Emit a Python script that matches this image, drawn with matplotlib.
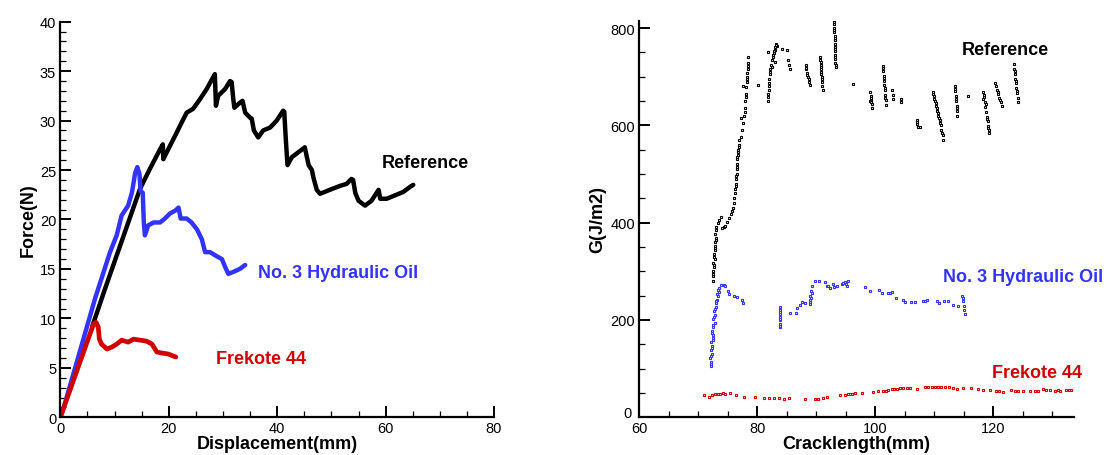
import matplotlib
matplotlib.use("Agg")
import matplotlib.pyplot as plt
from matplotlib.ticker import MultipleLocator
from matplotlib.transforms import ScaledTranslation

plt.rcParams['font.family'] = ['Liberation Sans', 'DejaVu Sans']

BLACK = '#000000'
BLUE = '#3333ff'
RED = '#d00000'

# ---------------- Left panel: Force vs Displacement ----------------
ref_disp = [5.9, 8.25, 14.7, 16.5, 18.4, 18.9, 19.0, 19.9, 21.2, 22.1, 23.3, 24.5, 25.8, 27.0,
            28.2, 28.5, 28.7, 29.1, 30.4, 31.3, 31.6, 31.9, 32.1, 33.1, 33.6, 34.1, 35.0, 35.3,
            35.7, 36.5, 37.4, 38.7, 39.9, 41.1, 41.3, 41.6, 41.9, 42.7, 43.9, 45.1, 45.4, 45.8,
            46.4, 46.7, 47.3, 47.9, 49.7, 51.6, 52.8, 53.7, 54.0, 54.4, 55.0, 56.2, 57.4, 58.7,
            59.0, 60.2, 62.0, 63.3, 64.5, 65.1]
ref_force = [9.2, 13.0, 23.1, 25.1, 27.1, 27.6, 26.1, 27.1, 28.5, 29.5, 30.8, 31.2, 32.2, 33.2,
             34.4, 34.7, 31.5, 32.5, 33.2, 34.0, 33.9, 32.2, 31.3, 31.8, 32.0, 30.8, 30.3, 30.2,
             29.0, 28.3, 29.0, 29.3, 30.0, 31.0, 30.9, 28.0, 25.5, 26.3, 26.8, 27.3, 26.5, 25.5,
             25.0, 24.2, 23.0, 22.6, 23.0, 23.4, 23.6, 24.1, 24.0, 22.7, 21.9, 21.4, 21.9, 23.0,
             22.1, 22.1, 22.5, 22.8, 23.3, 23.5]

oil_disp = [0.0, 0.55, 6.4, 9.17, 10.4, 11.3, 12.5, 13.2, 13.8, 14.2, 14.6, 14.8, 15.2, 15.4,
            15.6, 16.2, 17.2, 18.4, 19.3, 20.2, 21.2, 21.8, 22.2, 23.3, 24.2, 25.2, 26.1, 26.7,
            27.6, 28.8, 29.8, 30.4, 31.0, 31.9, 33.1, 34.1]
oil_force = [0.0, 0.84, 12.0, 16.7, 18.4, 20.4, 21.4, 22.7, 24.7, 25.3, 24.6, 22.9, 22.7, 19.7,
             18.4, 19.4, 19.7, 19.7, 20.1, 20.6, 20.9, 21.2, 20.1, 20.1, 19.7, 19.0, 18.0, 16.7,
             16.7, 16.3, 16.0, 15.2, 14.5, 14.7, 15.0, 15.4]

fre_disp = [0.0, 6.1, 6.6, 7.0, 7.2, 7.6, 8.6, 9.5, 10.4, 11.3, 12.5, 13.5, 14.7, 15.9, 16.9,
            17.8, 18.7, 19.9, 20.8, 21.3]
fre_force = [0.0, 9.4, 9.6, 9.1, 7.9, 7.4, 6.9, 7.1, 7.4, 7.8, 7.6, 7.9, 7.8, 7.7, 7.4,
             6.6, 6.5, 6.4, 6.2, 6.1]

# ---------------- Right panel: G vs Cracklength ----------------
ref_crack = [72.5, 72.6, 72.5, 72.7, 72.6, 72.8, 72.7, 72.9, 72.8, 72.9, 73.0, 72.9, 73.0, 73.1,
             73.3, 73.6, 73.8, 74.0, 74.3, 74.6, 74.9, 75.2, 75.5, 75.7, 75.9, 76.0, 76.1, 76.2,
             76.3, 76.4, 76.4, 76.5, 76.5, 76.6, 76.6, 76.7, 76.8, 76.9, 77.0, 77.3, 77.4, 77.2,
             77.6, 77.8, 77.9, 78.0, 78.1, 77.6, 78.2, 78.3, 78.4, 78.4, 78.5,
             72.55, 72.65, 72.75, 72.85, 72.95, 76.35, 76.45, 76.55, 76.65, 76.75, 76.85, 77.9, 78.05,
             78.15, 78.25, 78.35, 78.45,
             80.2,
             81.8, 81.9, 82.0, 82.0, 82.1, 82.2, 82.3, 82.5, 82.7, 82.9, 83.1, 83.3, 83.2, 81.8,
             82.5, 83.0, 81.85, 81.95, 82.05, 82.15, 82.6, 82.8, 83.0, 83.2,
             84.2, 85.1, 85.3, 85.4, 85.5,
             88.2, 88.3, 88.4, 88.6, 88.8, 89.0, 88.3, 88.5, 88.7,
             90.7, 90.75, 90.8, 90.85, 90.9, 91.0, 91.0, 91.1, 90.72, 90.78, 90.82, 90.88, 90.95,
             93.0, 93.0, 93.05, 93.05, 93.1, 93.1, 93.1, 93.15, 93.2, 93.2, 93.2, 93.25, 93.3,
             93.02, 93.07, 93.12, 93.17, 93.22, 93.27,
             96.3,
             99.1, 99.2, 99.3, 99.4, 99.5, 99.1, 99.25, 99.35,
             101.3, 101.35, 101.4, 101.5, 101.55, 101.6, 101.7, 101.75, 101.8,
             101.32, 101.45, 101.58, 101.72,
             102.9, 102.95, 103.0,
             104.3, 104.35,
             107.0, 107.1, 107.2, 107.5, 107.05,
             109.7, 109.9, 110.1, 110.3, 110.5, 110.7, 110.9, 111.1, 111.2, 111.4, 111.5,
             109.8, 110.0, 110.2, 110.4, 110.6, 110.8, 111.0, 111.3,
             113.5, 113.55, 113.6, 113.7, 113.75, 113.85, 113.9, 113.52, 113.65, 113.8,
             115.7,
             118.3, 118.4, 118.5, 118.6, 118.8, 118.9, 119.0, 119.1, 119.2, 119.3, 118.3,
             118.45, 118.7, 118.95, 119.15,
             120.3, 120.45, 120.6, 120.8, 121.0, 121.2, 121.4, 120.7, 121.1,
             123.5, 123.55, 123.6, 123.7, 123.8, 123.9, 124.0, 124.1, 124.2, 123.65, 123.85, 124.05]
ref_G = [280, 290, 300, 308, 318, 326, 335, 343, 352, 360, 368, 376, 384, 392,
         400, 405, 412, 390, 392, 394, 402, 410, 418, 423, 430, 440, 450, 460,
         470, 480, 490, 500, 510, 520, 530, 540, 550, 560, 570, 575, 590, 615,
         605, 620, 635, 650, 665, 680, 690, 700, 715, 728, 740,
         295, 313, 330, 347, 364, 475, 495, 515, 535, 545, 555, 628, 658,
         678, 695, 708, 722,
         683,
         650, 665, 680, 695, 705, 715, 725, 735, 740, 748, 755, 762, 768, 750,
         720, 730, 658, 672, 688, 710, 745, 752, 760, 765,
         757, 754, 735, 725, 715,
         723, 715, 708, 700, 690, 682, 718, 704, 695,
         740, 730, 720, 710, 700, 690, 680, 672, 735, 725, 715, 705, 695,
         816, 808, 800, 792, 784, 776, 768, 760, 752, 744, 736, 728, 720,
         812, 796, 780, 756, 740, 724,
         685,
         668, 660, 652, 644, 636, 650, 656, 648,
         722, 712, 702, 692, 682, 672, 662, 652, 642,
         717, 697, 677, 657,
         672, 662, 654,
         655, 648,
         610, 603, 596, 596, 606,
         668, 660, 650, 640, 630, 620, 610, 600, 590, 580, 570,
         664, 655, 645, 635, 625, 615, 605, 585,
         680, 670, 660, 650, 640, 630, 620, 675, 655, 635,
         661,
         668, 658, 648, 638, 628, 618, 608, 598, 590, 584, 655,
         663, 643, 613, 594,
         688, 680, 672, 664, 656, 648, 640, 668, 652,
         726, 716, 706, 696, 686, 676, 666, 656, 648, 711, 691, 671]

oil_crack = [72.1, 72.2, 72.0, 72.3, 72.1, 72.4, 72.2, 72.5, 72.5, 72.3, 72.6, 72.8, 72.5, 72.9,
             72.7, 73.0, 73.1, 73.2, 73.3, 73.5, 73.6, 73.9, 74.3, 74.6, 75.0, 75.3, 76.0, 76.6,
             77.4, 77.6,
             72.15, 72.25, 72.35, 72.45, 72.4, 72.6, 72.7, 72.8, 73.05, 73.25, 73.4,
             83.8, 83.8, 83.8, 83.8, 83.85, 83.85, 83.85, 83.8, 83.82, 83.84,
             85.6, 86.6, 86.8, 87.2, 87.6, 88.1, 88.9, 88.9, 89.0, 89.1, 89.3, 89.8, 90.4, 91.5,
             91.8, 92.3, 92.8, 93.5, 94.3, 94.9, 95.2, 95.3, 98.3, 99.1, 100.7, 101.1, 102.2,
             102.8, 103.5, 104.7, 105.0, 106.1, 106.7, 108.1, 108.7, 110.4, 110.8, 111.6, 112.3,
             113.2, 114.0, 114.7, 114.9, 115.0, 115.1, 115.15,
             88.95, 89.05, 89.2, 92.0, 93.0, 94.6, 95.0, 102.5, 108.4, 114.8]
oil_G = [106, 114, 122, 130, 138, 146, 154, 162, 170, 178, 186, 194, 202, 210,
         218, 226, 234, 242, 250, 258, 265, 271, 272, 270, 260, 254, 250, 248,
         242, 234,
         110, 126, 142, 158, 174, 190, 206, 222, 238, 254, 262,
         185, 192, 199, 206, 213, 220, 226, 188, 203, 217,
         215, 215, 224, 230, 236, 234, 232, 242, 250, 260, 270, 280, 280, 277,
         269, 266, 274, 270, 273, 277, 270, 280, 267, 260, 262, 256, 256,
         258, 246, 241, 236, 237, 236, 239, 241, 239, 235, 239, 239,
         230, 228, 250, 240, 229, 220, 212,
         237, 246, 255, 270, 268, 275, 274, 255, 240, 245]

fre_crack = [71.06, 71.80, 72.36, 72.92, 73.3, 73.77, 74.2, 74.61, 75.34, 76.47, 77.71, 79.68,
             81.09, 81.93, 82.78, 83.62, 84.47, 85.31, 88.13, 89.81, 90.38, 91.22, 91.90, 94.04,
             94.88, 95.3, 95.73, 96.1, 96.57, 97.70, 99.67, 100.51, 101.36, 101.8, 102.20, 102.77,
             103.2, 103.61, 104.2, 104.74, 105.3, 105.86, 106.99, 108.40, 109.0, 109.52, 110.1,
             110.65, 111.2, 111.77, 112.4, 113.18, 113.75, 114.87, 116.28, 117.41, 118.25, 119.38,
             120.50, 121.0, 121.63, 123.03, 123.6, 124.16, 125.01, 126.13, 127.0, 127.54, 128.39,
             128.9, 129.51, 130.36, 130.9, 131.20, 132.33, 132.8, 133.2]
fre_G = [45.3, 42.5, 45.3, 47.4, 48.0, 48.7, 49.0, 48.7, 49.4, 46.0, 42.5, 42.5,
         39.0, 39.0, 39.0, 39.0, 37.0, 40.5, 38.4, 37.0, 38.4, 39.8, 41.9, 45.3,
         46.7, 47.5, 48.0, 48.5, 49.4, 50.8, 52.2, 53.5, 54.2, 55.0, 56.3, 57.6,
         58.0, 59.0, 60.0, 60.4, 60.2, 59.7, 59.0, 63.1, 62.8, 62.4, 62.0,
         62.4, 62.2, 61.7, 61.5, 61.0, 59.0, 60.4, 59.7, 59.0, 56.3, 56.3,
         54.9, 53.5, 52.2, 56.3, 55.0, 53.5, 53.5, 54.2, 54.8, 54.2, 57.6,
         57.0, 56.3, 54.2, 55.5, 55.0, 56.3, 56.8, 56.0]

fig = plt.figure(figsize=(11.11, 4.56), dpi=100)
ax1 = fig.add_axes([0.0543, 0.0827, 0.3904, 0.8675])
ax2 = fig.add_axes([0.5752, 0.0827, 0.3918, 0.8697])


def style(ax):
    for s in ('top', 'right'):
        ax.spines[s].set_visible(False)
    for s in ('left', 'bottom'):
        ax.spines[s].set_linewidth(1.6)
    ax.tick_params(which='major', direction='in', length=8, width=1.4, labelsize=10.5,
                   pad=3, top=False, right=False)
    ax.tick_params(which='minor', direction='in', length=4.5, width=0.9, top=False, right=False)


# Left
ax1.plot(ref_disp, ref_force, color=BLACK, lw=3.2, solid_capstyle='round')
ax1.plot(oil_disp, oil_force, color=BLUE, lw=3.2, solid_capstyle='round')
ax1.plot(fre_disp, fre_force, color=RED, lw=3.4, solid_capstyle='round')
ax1.set_xlim(0, 80)
ax1.set_ylim(0, 40)
ax1.xaxis.set_major_locator(MultipleLocator(20))
ax1.xaxis.set_minor_locator(MultipleLocator(5))
ax1.yaxis.set_major_locator(MultipleLocator(5))
ax1.yaxis.set_minor_locator(MultipleLocator(1))
style(ax1)
ax1.set_xlabel('Displacement(mm)', fontsize=13, fontweight='bold', labelpad=0)
ax1.set_ylabel('Force(N)', fontsize=13, fontweight='bold', labelpad=2)
ax1.text(59.3, 25.3, 'Reference', color=BLACK, fontsize=13, fontweight='bold', va='baseline')
ax1.text(36.5, 14.15, 'No. 3 Hydraulic Oil', color=BLUE, fontsize=13, fontweight='bold', va='baseline')
ax1.text(28.7, 5.45, 'Frekote 44', color=RED, fontsize=13, fontweight='bold', va='baseline')

# Right
mk = dict(marker='s', linestyle='none', markersize=2.1, markerfacecolor='white', markeredgewidth=0.8)
ax2.plot(ref_crack, ref_G, markeredgecolor=BLACK, **mk)
ax2.plot(oil_crack, oil_G, markeredgecolor=BLUE, **mk)
ax2.plot(fre_crack, fre_G, markeredgecolor=RED, **mk)
ax2.set_xlim(60, 133.7)
ax2.set_ylim(0, 815)
ax2.xaxis.set_major_locator(MultipleLocator(20))
ax2.xaxis.set_minor_locator(MultipleLocator(5))
ax2.yaxis.set_major_locator(MultipleLocator(200))
ax2.yaxis.set_minor_locator(MultipleLocator(50))
style(ax2)
ax2.set_xlabel('Cracklength(mm)', fontsize=13, fontweight='bold', labelpad=0)
ax2.set_ylabel('G(J/m2)', fontsize=13, fontweight='bold', labelpad=3)
ax2.text(114.6, 746.6, 'Reference', color=BLACK, fontsize=13, fontweight='bold', va='baseline')
ax2.text(111.5, 280.7, 'No. 3 Hydraulic Oil', color=BLUE, fontsize=13, fontweight='bold', va='baseline')
ax2.text(119.7, 82, 'Frekote 44', color=RED, fontsize=13, fontweight='bold', va='baseline')

fig.canvas.draw()
# nudge the "0" of the right y axis up-left a little, as in the reference
for lbl in ax2.get_yticklabels():
    if lbl.get_text() == '0':
        lbl.set_transform(lbl.get_transform() + ScaledTranslation(-2 / 72, 4 / 72, fig.dpi_scale_trans))

fig.savefig('out.png', dpi=100)
